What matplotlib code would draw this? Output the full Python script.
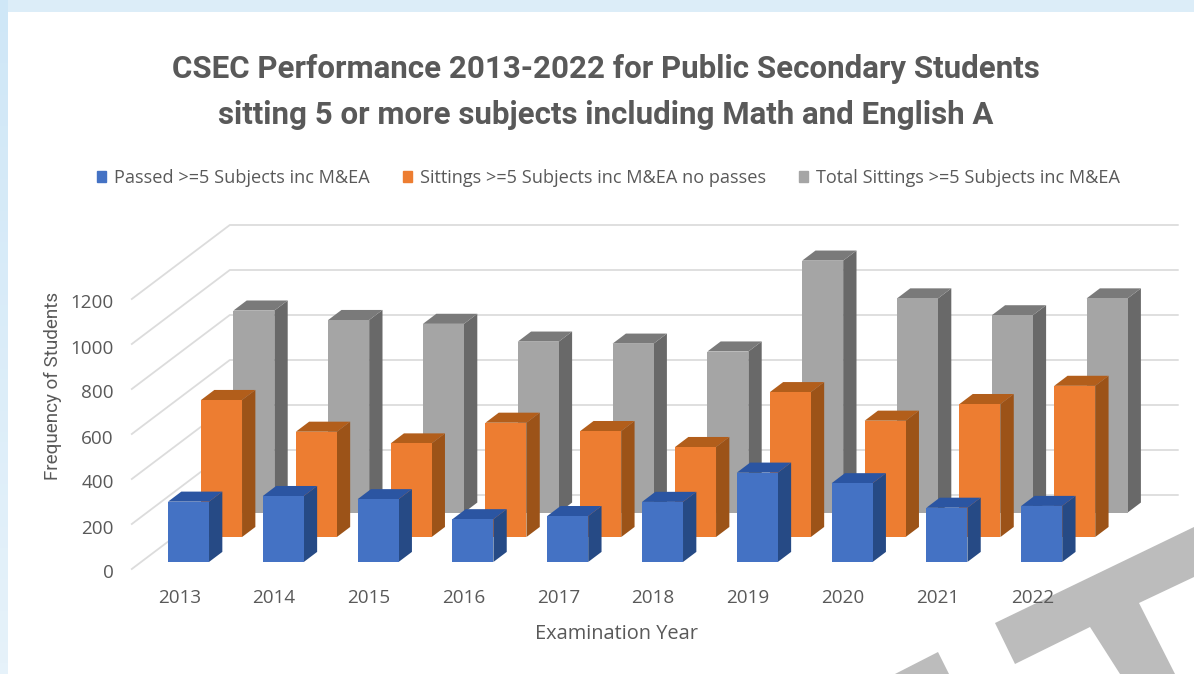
import matplotlib
matplotlib.use('Agg')
import matplotlib.pyplot as plt
import numpy as np
from matplotlib.patches import Patch, Polygon, Rectangle
from matplotlib.transforms import ScaledTranslation

years = ['2013', '2014', '2015', '2016', '2017', '2018', '2019', '2020', '2021', '2022']
passed = [268, 293, 279, 190, 204, 267, 397, 350, 241, 249]
no_passes = [609, 468, 416, 508, 471, 400, 644, 517, 591, 672]
total = [898, 856, 839, 760, 751, 716, 1120, 952, 877, 952]
y_ticks = [0, 200, 400, 600, 800, 1000, 1200]

W, H = 1194, 674
TEXT = '#595959'
NARROW = ['Roboto', 'DejaVu Sans']
BODY = ['Open Sans', 'DejaVu Sans']

fig = plt.figure(figsize=(W / 100, H / 100), dpi=100, facecolor='#dcedf8')

# page background and the grey shapes behind the chart
bg = fig.add_axes([0, 0, 1, 1])
strip = np.linspace(0, 1, 64).reshape(-1, 1)
bg.imshow(strip, extent=(0, 8, H, 0), aspect='auto', vmin=0, vmax=1,
          cmap=matplotlib.colors.LinearSegmentedColormap.from_list('edge', ['#cfe7f7', '#e6f2fa']))
bg.set_xlim(0, W)
bg.set_ylim(H, 0)
bg.axis('off')
bg.add_patch(Rectangle((8, 12), W - 8, H - 12, facecolor='white', edgecolor='none'))
bg.add_patch(Polygon([(995, 623), (1194, 527), (1194, 577), (1139, 603), (1175, 674),
                      (1120, 674), (1090, 627), (1015, 664)], facecolor='#bcbcbc', edgecolor='none'))
bg.add_patch(Polygon([(895, 674), (938, 652), (949, 674)], facecolor='#bcbcbc', edgecolor='none'))

# chart axes: one x unit is one year band, y is in students
PX_X = 94.8
PX_Y = 0.225
left_px, base_px, right_px, top_px = 131.8, 569.0, 1181.8, 215.0
ax = fig.add_axes([left_px / W, 1 - base_px / H, (right_px - left_px) / W, (base_px - top_px) / H])
ax.patch.set_alpha(0)
ax.set_xlim(-0.5, (right_px - left_px) / PX_X - 0.5)
ax.set_ylim(0, (base_px - top_px) / PX_Y)
for s in ax.spines.values():
    s.set_visible(False)

# oblique depth of the floor, in data units
DEPTH_X = 98.0 / PX_X
DEPTH_Y = 74.0 / PX_Y
BOX_DEPTH = 0.136
BAR_W = 41.0 / PX_X

# walls
x0 = -0.5
x1 = len(years) - 0.5
for v in y_ticks:
    ax.plot([x0, x0 + DEPTH_X, x1 + DEPTH_X], [v, v + DEPTH_Y, v + DEPTH_Y],
            color='#dcdcdc', lw=1.3, zorder=1, clip_on=False)


def draw_series(values, depth, front, side, top, z):
    xs = np.arange(len(values)) + depth * DEPTH_X
    base = depth * DEPTH_Y
    ax.bar(xs, values, width=BAR_W, bottom=base, color=front, zorder=z + 0.5, linewidth=0)
    dx = BOX_DEPTH * DEPTH_X
    dy = BOX_DEPTH * DEPTH_Y
    for x, v in zip(xs, values):
        l, r = x - BAR_W / 2, x + BAR_W / 2
        t = base + v
        ax.add_patch(Polygon([(r, base), (r + dx, base + dy), (r + dx, t + dy), (r, t)],
                             facecolor=side, edgecolor='none', zorder=z))
        ax.add_patch(Polygon([(l, t), (l + dx, t + dy), (r + dx, t + dy), (r, t)],
                             facecolor=top, edgecolor='none', zorder=z))


draw_series(total, 0.762, '#a5a5a5', '#696969', '#7a7a7a', 2)
draw_series(no_passes, 0.432, '#ed7d31', '#9c5318', '#b25e1b', 3)
draw_series(passed, 0.095, '#4472c4', '#264a85', '#2b55a2', 4)

ax.set_xticks(range(len(years)))
ax.set_xticklabels(years, fontsize=13.6, color=TEXT, family=BODY)
ax.set_yticks(y_ticks)
ax.set_yticklabels([str(v) for v in y_ticks], fontsize=13.6, color=TEXT, family=BODY)
ax.tick_params(axis='x', length=0, pad=14.5)
ax.tick_params(axis='y', length=0, pad=13)
# y labels sit a little below their gridline ends
nudge = ScaledTranslation(0, -2.5 / 100, fig.dpi_scale_trans)
for lab in ax.get_yticklabels():
    lab.set_transform(lab.get_transform() + nudge)
ax.set_xlabel('Examination Year', fontsize=14.4, color=TEXT, family=BODY)
ax.xaxis.set_label_coords((616 - left_px) / (right_px - left_px), -(634 - base_px) / (base_px - top_px))
ax.xaxis.label.set_verticalalignment('center')
ax.set_ylabel('Frequency of Students', fontsize=13.6, color=TEXT, family=NARROW)
ax.yaxis.set_label_coords((53 - left_px) / (right_px - left_px), (base_px - 386) / (base_px - top_px))
ax.yaxis.label.set_verticalalignment('center')

fig.text(606 / W, 1 - 92 / H,
         'CSEC Performance 2013-2022 for Public Secondary Students\n'
         'sitting 5 or more subjects including Math and English A',
         ha='center', va='center', fontsize=22.5, fontweight='bold', color=TEXT,
         family=NARROW, linespacing=1.65)

handles = [Patch(color='#4472c4'), Patch(color='#ed7d31'), Patch(color='#a5a5a5')]
labels = ['Passed >=5 Subjects inc M&EA', 'Sittings >=5 Subjects inc M&EA no passes',
          'Total Sittings >=5 Subjects inc M&EA']
fig.legend(handles, labels, loc='center', bbox_to_anchor=(608.5 / W, 1 - 178 / H), ncol=3,
           frameon=False, handlelength=0.5, handleheight=0.5, handletextpad=0.44,
           columnspacing=1.8, prop={'family': BODY, 'size': 13.1}, labelcolor=TEXT)

fig.savefig('out.png', dpi=100, facecolor=fig.get_facecolor())
